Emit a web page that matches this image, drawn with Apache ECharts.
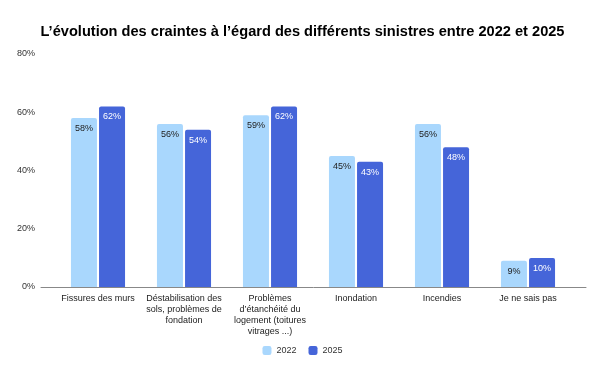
<!DOCTYPE html>
<html>
<head>
<meta charset="utf-8">
<script src="https://cdn.jsdelivr.net/npm/echarts@6/dist/echarts.min.js"></script>
<style>
  html, body { margin: 0; padding: 0; background: #fff; }
  #main { width: 605px; height: 375px; }
</style>
</head>
<body>
<div id="main"></div>
<script>
var categories = [
    'Fissures des murs',
    'Déstabilisation des\nsols, problèmes de\nfondation',
    'Problèmes\nd’étanchéité du\nlogement (toitures\nvitrages ...)',
    'Inondation',
    'Incendies',
    'Je ne sais pas'
];
var values2022 = [58, 56, 59, 45, 56, 9];
var values2025 = [62, 54, 62, 43, 48, 10];
var yTicks = [0, 20, 40, 60, 80];

var myChart = echarts.init(document.getElementById('main'));

var font = '"Liberation Sans", Arial, sans-serif';

option = {
    animation: false,
    textStyle: { fontFamily: font },
    title: {
        text: 'L’évolution des craintes à l’égard des différents sinistres entre 2022 et 2025',
        left: 'center',
        top: 19,
        textStyle: {
            fontFamily: font,
            fontSize: 14.6,
            fontWeight: 'bold',
            color: '#000'
        }
    },
    legend: {
        bottom: 15,
        left: 'center',
        itemWidth: 9,
        itemHeight: 9,
        itemGap: 12,
        icon: 'roundRect',
        textStyle: { fontSize: 9, color: '#333', fontFamily: font },
        data: ['2022', '2025']
    },
    // grid 0: axis line and y labels, grid 1: the bars
    grid: [
        { left: 41, right: 19, top: 54, bottom: 88 },
        { left: 55, right: 34, top: 54, bottom: 88 }
    ],
    xAxis: [{
        type: 'category',
        gridIndex: 0,
        data: [''],
        axisLine: { lineStyle: { color: '#888', width: 1 } },
        axisTick: { show: false },
        axisLabel: { show: false }
    }, {
        type: 'category',
        gridIndex: 1,
        data: categories,
        axisLine: { show: false },
        axisTick: { show: false },
        axisLabel: {
            interval: 0,
            margin: 6,
            fontSize: 9,
            lineHeight: 11,
            color: '#222',
            fontFamily: font
        }
    }],
    yAxis: [{
        type: 'value',
        gridIndex: 0,
        min: yTicks[0],
        max: yTicks[yTicks.length - 1],
        interval: 20,
        splitLine: { show: false },
        axisLine: { show: false },
        axisTick: { show: false },
        axisLabel: {
            formatter: '{value}%',
            fontSize: 9,
            color: '#333',
            margin: 6,
            fontFamily: font
        }
    }, {
        type: 'value',
        gridIndex: 1,
        min: yTicks[0],
        max: yTicks[yTicks.length - 1],
        interval: 20,
        show: false,
        splitLine: { show: false }
    }],
    series: [{
        name: '2022',
        type: 'bar',
        xAxisIndex: 1,
        yAxisIndex: 1,
        data: values2022,
        barWidth: 26,
        barGap: '8%',
        itemStyle: { color: '#a9d7fd', borderRadius: [2, 2, 0, 0] },
        label: {
            show: true,
            position: 'insideTop',
            distance: 6,
            formatter: '{c}%',
            fontSize: 9,
            color: '#222',
            fontFamily: font
        }
    }, {
        name: '2025',
        type: 'bar',
        xAxisIndex: 1,
        yAxisIndex: 1,
        data: values2025,
        barWidth: 26,
        itemStyle: { color: '#4565d9', borderRadius: [2, 2, 0, 0] },
        label: {
            show: true,
            position: 'insideTop',
            distance: 6,
            formatter: '{c}%',
            fontSize: 9,
            color: '#fff',
            fontFamily: font
        }
    }]
};
myChart.setOption(option);
</script>
</body>
</html>
